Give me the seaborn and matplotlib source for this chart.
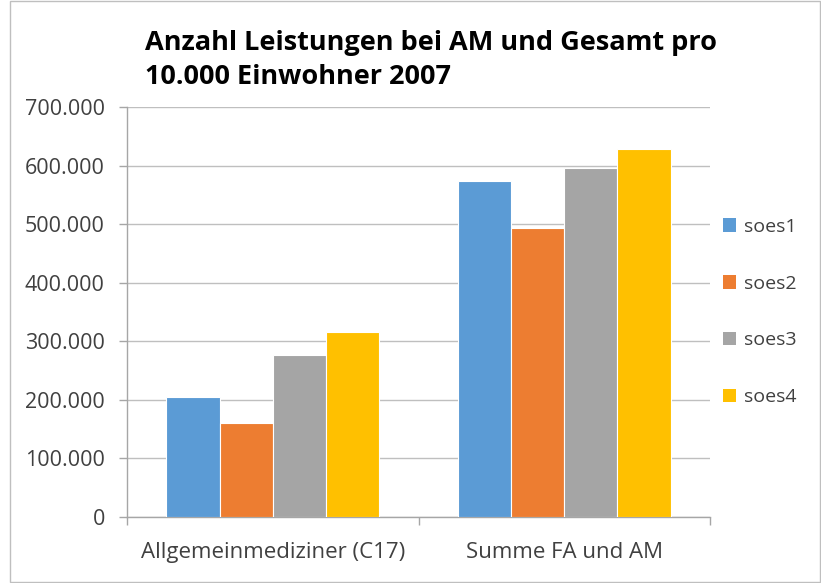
import pandas as pd
import matplotlib.pyplot as plt
import seaborn as sns
from matplotlib.patches import Rectangle

# Data
categories = ['Allgemeinmediziner (C17)', 'Summe FA und AM']
series = ['soes1', 'soes2', 'soes3', 'soes4']
soes1 = [204600, 574000]
soes2 = [161000, 494000]
soes3 = [277000, 596000]
soes4 = [316500, 628500]
colors = ['#5B9BD5', '#ED7D31', '#A5A5A5', '#FFC000']
y_ticks = [0, 100000, 200000, 300000, 400000, 500000, 600000, 700000]

rows = []
for name, vals in zip(series, [soes1, soes2, soes3, soes4]):
    for cat, v in zip(categories, vals):
        rows.append({'Kategorie': cat, 'Serie': name, 'Wert': v})
df = pd.DataFrame(rows)

sns.set_theme(style="white")
plt.rcParams['font.family'] = ['Open Sans', 'DejaVu Sans']

fig = plt.figure(figsize=(8.21, 5.83), dpi=100)
ax = fig.add_axes([127/821, 1 - 517/583, (710 - 127)/821, (517 - 107)/583])

sns.barplot(data=df, x='Kategorie', y='Wert', hue='Serie', palette=colors,
            saturation=1, width=0.73, gap=0, edgecolor='white', linewidth=0.8,
            ax=ax, legend=False, zorder=3)

ax.set_xlim(-0.5, 1.5)
ax.set_ylim(0, 700000)
ax.set_yticks(y_ticks)
ax.set_yticklabels([f'{v:,}'.replace(',', '.') for v in y_ticks])
ax.set_xticks([-0.5, 0.5, 1.5], minor=False)
ax.set_xticklabels([])
ax.set_xticks([0, 1], minor=True)
ax.set_xticklabels(categories, minor=True)
ax.set_xlabel('')
ax.set_ylabel('')

ax.grid(axis='y', color='#BFBFBF', linewidth=1, zorder=0)
for s in ['top', 'right']:
    ax.spines[s].set_visible(False)
for s in ['left', 'bottom']:
    ax.spines[s].set_color('#A6A6A6')
    ax.spines[s].set_linewidth(1)

ax.tick_params(axis='y', which='major', direction='out', length=6, width=1,
               color='#A6A6A6', labelsize=15.5, labelcolor='#404040', pad=10, left=True)
ax.tick_params(axis='x', which='major', direction='out', length=6, width=1,
               color='#A6A6A6', bottom=True)
ax.tick_params(axis='x', which='minor', length=0, labelsize=16,
               labelcolor='#404040', pad=18)

# Legend on the right
handles = [Rectangle((0, 0), 1, 1, facecolor=c, edgecolor='none') for c in colors]
fig.legend(handles, series, loc='center left', bbox_to_anchor=(705/821, 1 - 312/583),
           frameon=False, fontsize=14, handlelength=0.7, handleheight=0.7,
           handletextpad=0.4, labelspacing=2.0, labelcolor='#404040')

# Title
fig.text(145/821, 1 - 60/583, 'Anzahl Leistungen bei AM und Gesamt pro\n10.000 Einwohner 2007',
         fontsize=19.5, fontweight='bold', color='black', ha='left', va='center',
         linespacing=1.45)

# Chart-area border
fig.add_artist(Rectangle((10/821, 0.002), 1 - 11/821, 0.996, transform=fig.transFigure,
                         fill=False, edgecolor='#BFBFBF', linewidth=1))

fig.savefig('out.png', dpi=100)
